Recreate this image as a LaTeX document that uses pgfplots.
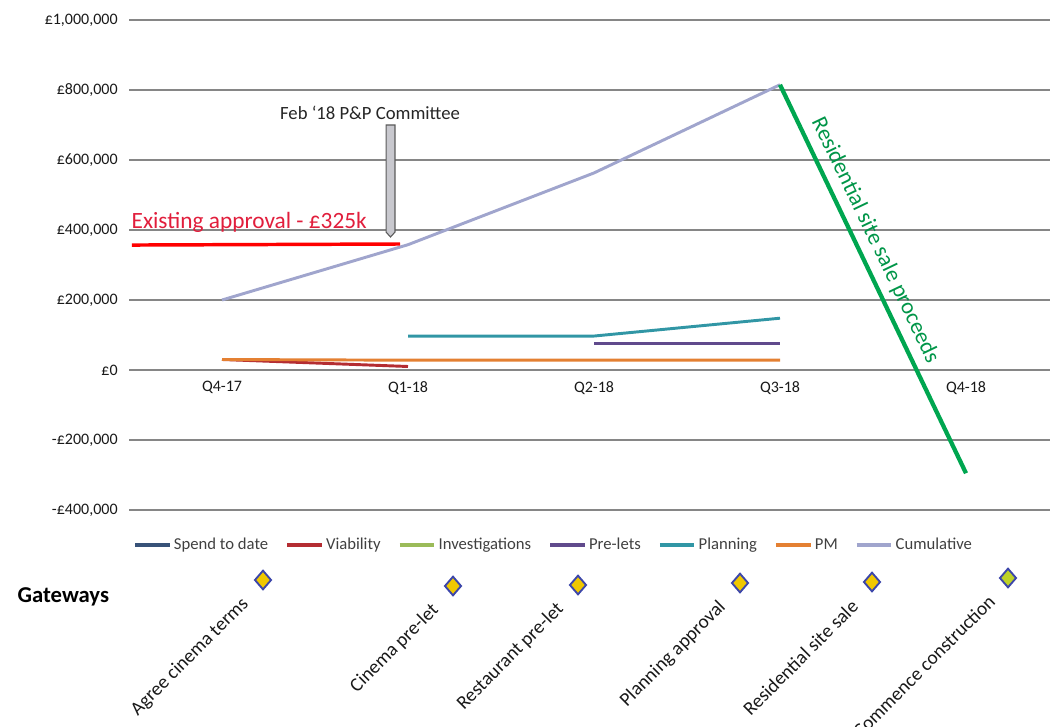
\documentclass[border=0pt]{standalone}
\usepackage{fontspec}
\setmainfont{Carlito}
\usepackage{pgfplots}
\pgfplotsset{compat=1.18}
\definecolor{gridc}{RGB}{134,134,134}
\definecolor{spend}{RGB}{56,82,120}
\definecolor{viab}{RGB}{180,45,50}
\definecolor{invest}{RGB}{155,187,89}
\definecolor{prelet}{RGB}{96,74,140}
\definecolor{plan}{RGB}{49,150,165}
\definecolor{pm}{RGB}{228,128,50}
\definecolor{cumul}{RGB}{160,165,205}
\definecolor{exred}{RGB}{255,0,0}
\definecolor{extext}{RGB}{225,30,60}
\definecolor{resgreen}{RGB}{0,166,80}
\definecolor{gold}{RGB}{240,200,0}
\definecolor{dblue}{RGB}{60,70,170}
\definecolor{calloutfill}{RGB}{200,200,206}
\definecolor{calloutdraw}{RGB}{90,90,90}
\begin{document}
\begin{tikzpicture}
\useasboundingbox (0,0) rectangle (787.5pt,544.5pt);
\begin{axis}[
  at={(96.75pt,162pt)}, anchor=south west,
  scale only axis, width=690.75pt, height=367.5pt,
  xmin=-0.5, xmax=4.4516, ymin=-400000, ymax=1000000,
  axis x line*=middle, axis y line*=left,
  hide obscured x ticks=false, hide obscured y ticks=false,
  scaled y ticks=false, scaled x ticks=false,
  x axis line style={draw=gridc, line width=0.9pt},
  y axis line style={draw=none},
  major tick length=0pt,
  xtick={0,1,2,3,4}, xticklabels={Q4-17,Q1-18,Q2-18,Q3-18,Q4-18},
  ytick={-400000,-200000,0,200000,400000,600000,800000,1000000},
  yticklabels={{-£400,000},{-£200,000},{£0},{£200,000},{£400,000},{£600,000},{£800,000},{£1,000,000}},
  ymajorgrids, grid style={draw=gridc, line width=0.9pt},
  tick label style={font=\fontsize{12}{14}\selectfont, text=black!90},
  xticklabel style={yshift=-5pt},
  yticklabel style={xshift=-5pt},
  clip=false,
  legend style={at={(0.4615,-0.0714)}, anchor=center, draw=none, fill=none,
    legend columns=7, font=\fontsize{12.5}{14}\selectfont, text=black!75,
    /tikz/every even column/.append style={column sep=11pt}},
  legend image code/.code={\draw[#1, line width=2.4pt] (0pt,0pt) -- (26pt,0pt);},
]
\addlegendimage{spend}\addlegendentry{Spend to date}
\addlegendimage{viab}\addlegendentry{Viability}
\addlegendimage{invest}\addlegendentry{Investigations}
\addlegendimage{prelet}\addlegendentry{Pre-lets}
\addlegendimage{plan}\addlegendentry{Planning}
\addlegendimage{pm}\addlegendentry{PM}
\addlegendimage{cumul}\addlegendentry{Cumulative}

\addplot[viab, line width=2.2pt, forget plot] coordinates {(0,30000) (1,10000)};
\addplot[pm, line width=2.2pt, forget plot] coordinates {(0,30000) (1,28000) (2,28000) (3,28000)};
\addplot[prelet, line width=2.2pt, forget plot] coordinates {(2,75000) (3,75000)};
\addplot[plan, line width=2.2pt, forget plot] coordinates {(1,97000) (2,97000) (3,148000)};
\addplot[cumul, line width=2.2pt, forget plot] coordinates {(0,200000) (1,358000) (2,563000) (3,815000)};
\addplot[exred, line width=2.6pt, forget plot] coordinates {(-0.484,357000) (0.957,360000)};
\addplot[resgreen, line width=3.2pt, forget plot] coordinates {(3,815000) (4,-295000)};

\draw[fill=calloutfill, draw=calloutdraw, line width=0.8pt]
  (axis cs:0.882,700000) -- (axis cs:0.930,700000) -- (axis cs:0.930,394000)
  -- (axis cs:0.906,380000) -- (axis cs:0.882,394000) -- cycle;
\node[font=\fontsize{14}{16}\selectfont, text=black!85] at (axis cs:0.796,734000) {Feb `18 P\&P Committee};
\node[anchor=base west, font=\fontsize{17.5}{20}\selectfont, text=extext] at (axis cs:-0.511,405700) {Existing approval - £325k};
\node[font=\fontsize{17}{20}\selectfont, text=resgreen!90!black, rotate=-64.4] at (axis cs:3.511,371000) {Residential site sale proceeds};
\end{axis}

\begin{axis}[
  at={(0pt,0pt)}, anchor=south west,
  scale only axis, width=787.5pt, height=544.5pt,
  xmin=0, xmax=1050, ymin=0, ymax=726, y dir=reverse,
  hide axis, clip=false,
]
\addplot[only marks, mark=diamond*, mark size=7pt,
  mark options={fill=gold, draw=dblue, line width=1.4pt, xscale=1.15}]
  coordinates {(263,580) (453,586) (578,585) (740,583) (872,582)};
\addplot[only marks, mark=diamond*, mark size=7pt,
  mark options={fill={rgb,255:red,190;green,210;blue,40}, draw=dblue, line width=1.4pt, xscale=1.15}]
  coordinates {(1008,578)};
\node[anchor=west, font=\bfseries\fontsize{17}{20}\selectfont] at (axis cs:13,597) {Gateways};
\begin{scope}[every node/.style={rotate=45, anchor=east, font=\fontsize{14.5}{17}\selectfont, text=black!90}]
\node at (axis cs:249,598) {Agree cinema terms};
\node at (axis cs:439,604) {Cinema pre-let};
\node at (axis cs:564,603) {Restaurant pre-let};
\node at (axis cs:726,601) {Planning approval};
\node at (axis cs:858,600) {Residential site sale};
\node at (axis cs:995,595) {Commence construction};
\end{scope}
\end{axis}
\end{tikzpicture}
\end{document}
